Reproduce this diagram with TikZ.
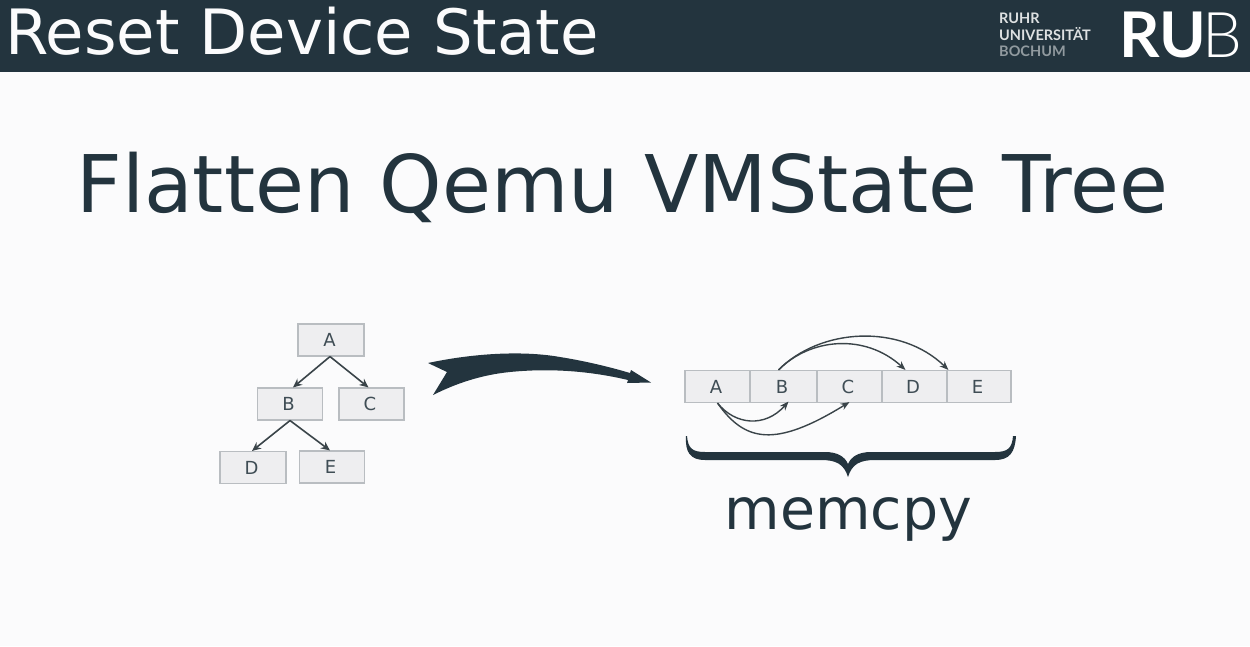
\documentclass[tikz,border=0pt]{standalone}
\usepackage{fontspec}
\setmainfont{DejaVu Sans}
\newfontfamily\logofont{Lato}
\newfontfamily\logolight{Lato Light}
\usetikzlibrary{arrows.meta}
\definecolor{bar}{HTML}{23343E}
\definecolor{page}{HTML}{FBFBFC}
\definecolor{boxfill}{HTML}{EEEEF0}
\definecolor{boxline}{HTML}{B9BDC1}
\definecolor{ink}{HTML}{3F4D55}
\definecolor{wire}{HTML}{3A4449}
\newcommand{\fs}[1]{\fontsize{#1}{#1}\selectfont}
\newcommand{\lbl}[1]{#1\hspace*{3pt}}
\tikzset{
  cell/.style={draw=boxline,fill=boxfill,line width=1.1pt,minimum height=32pt,text=ink,inner sep=0pt,font=\fs{18}},
  treelink/.style={draw=wire,line width=1.6pt,-{Stealth[length=9pt,width=8pt]}},
  copylink/.style={draw=wire,line width=1.4pt,-{Stealth[length=9pt,width=7pt]}},
  logosmall/.style={anchor=west,inner sep=0pt,font=\logofont\bfseries\fs{14.500},text=#1},
  solidshape/.style={fill=bar,draw=none}
}
\begin{document}
\begin{tikzpicture}[x=1pt,y=-1pt]
\useasboundingbox (0,0) rectangle (1250,646);
\fill[page] (0,0) rectangle (1250,646);
\fill[bar] (0,0) rectangle (1250,72);
\node[anchor=base west,inner sep=0pt,text=page,font=\fs{62.5}] (head) at (5,54) {Reset Device State};
\node[logosmall=white!85!bar] (l1) at (999,18) {RUHR};
\node[logosmall=white!85!bar] (l2) at (999,34) {UNIVERSITÄT};
\node[logosmall=white!50!bar] (l3) at (999,51) {BOCHUM};
\node[anchor=base west,inner sep=0pt,text=white,font=\logofont\bfseries\fs{63}] (l4) at (1119,57) {RU};
\node[anchor=base east,inner sep=0pt,text=white,font=\logolight\fs{63}] (l5) at (1243,57) {B};
\node[text=bar,inner sep=0pt,anchor=base,font=\fs{79.500}] (title) at (622.500,212) {Flatten Qemu VMState Tree};

\node[cell,minimum width=66pt] (ta) at (331,340) {\lbl{A}};
\node[cell,minimum width=65pt] (tb) at (290,404) {\lbl{B}};
\node[cell,minimum width=65pt] (tc) at (371.500,404) {\lbl{C}};
\node[cell,minimum width=66pt] (td) at (253,467.500) {\lbl{D}};
\node[cell,minimum width=65pt] (te) at (332,467) {\lbl{E}};
\draw[treelink] ([xshift=-1pt]ta.south) -- ([xshift=3pt]tb.north);
\draw[treelink] ([xshift=-1pt]ta.south) -- ([xshift=-3pt]tc.north);
\draw[treelink] (tb.south) -- ([xshift=-1pt]td.north);
\draw[treelink] (tb.south) -- ([xshift=-2pt]te.north);

\fill[solidshape] (428,363) .. controls (470,354) and (520,350) .. (560,357)
  .. controls (585,361) and (610,367) .. (630,373) -- (631,370) -- (651,382.500) -- (627,383)
  -- (628,380) .. controls (590,371) and (550,368) .. (510,372)
  .. controls (480,375) and (455,384) .. (433,395) -- (447,372) -- cycle;

\node[cell,minimum width=65pt] (fa) at (717.500,386.500) {\lbl{A}};
\node[cell,minimum width=67pt] (fb) at (783.500,386.500) {\lbl{B}};
\node[cell,minimum width=65pt] (fc) at (849.500,386.500) {\lbl{C}};
\node[cell,minimum width=65pt] (fd) at (914.500,386.500) {\lbl{D}};
\node[cell,minimum width=64pt] (fe) at (979,386.500) {\lbl{E}};
\draw[copylink] (fa.south) .. controls (735,425) and (765,428) .. ([xshift=5pt,yshift=1.500pt]fb.south);
\draw[copylink] (fa.south) .. controls (745,442) and (775,448) .. ([yshift=1pt]fc.south);
\draw[copylink] ([xshift=-5pt]fb.north) .. controls (810,338) and (865,333) .. ([xshift=-9pt]fd.north);
\draw[copylink] ([xshift=-5pt]fb.north) .. controls (820,328) and (900,323) .. ([xshift=2pt]fe.north west);

\fill[solidshape] (687,436) .. controls (688,448) and (692,452) .. (705,452)
  -- (825,452) .. controls (838,452) and (845,457) .. (848,464)
  .. controls (851,457) and (858,452) .. (871,452) -- (995,452)
  .. controls (1008,452) and (1012,448) .. (1013,436) -- (1016,436)
  .. controls (1015,452) and (1010,460) .. (995,460) -- (875,460)
  .. controls (860,460) and (852,464) .. (848,477)
  .. controls (844,464) and (836,460) .. (821,460) -- (705,460)
  .. controls (690,460) and (685,452) .. (686,436) -- cycle;
\node[text=bar,inner sep=0pt,anchor=base,font=\fs{57}] (mem) at (848.500,529) {memcpy};
\end{tikzpicture}
\end{document}
